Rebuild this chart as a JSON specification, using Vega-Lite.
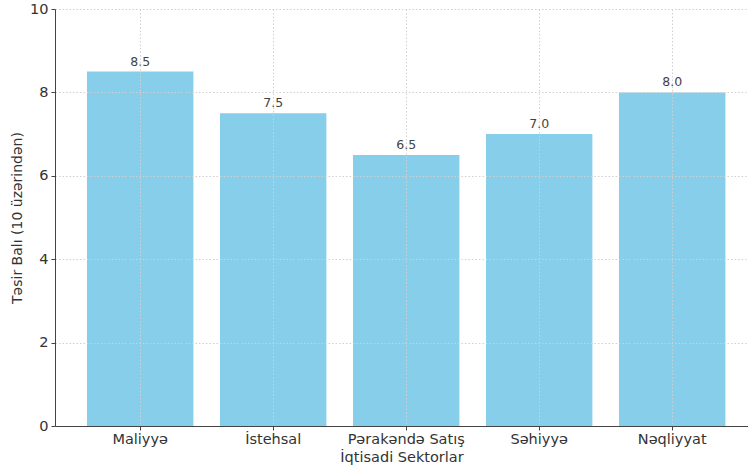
{
  "$schema": "https://vega.github.io/schema/vega-lite/v6.json",
  "autosize": "none",
  "width": 693,
  "height": 417,
  "padding": {"left": 55, "top": 9, "right": 0, "bottom": 45},
  "background": "white",
  "config": {
    "view": {"stroke": null},
    "font": "DejaVu Sans"
  },
  "data": {
    "values": [
      {"sektor": "Maliyyə", "bal": 8.5},
      {"sektor": "İstehsal", "bal": 7.5},
      {"sektor": "Pərakəndə Satış", "bal": 6.5},
      {"sektor": "Səhiyyə", "bal": 7.0},
      {"sektor": "Nəqliyyat", "bal": 8.0}
    ]
  },
  "encoding": {
    "x": {
      "field": "sektor",
      "type": "nominal",
      "sort": null,
      "scale": {"paddingInner": 0.2, "paddingOuter": 0.205, "align": 0.586},
      "axis": {
        "title": "İqtisadi Sektorlar",
        "titleFont": "DejaVu Sans",
        "titleFontSize": 14.5,
        "titleFontWeight": "normal",
        "titleColor": "#333",
        "titlePadding": 5,
        "labelAngle": 0,
        "labelFontSize": 14.5,
        "labelColor": "#333",
        "labelPadding": 2,
        "domainColor": "#444",
        "tickColor": "#444",
        "tickSize": 4,
        "bandPosition": 0.5,
        "grid": true,
        "gridColor": "#d0d0d0",
        "gridDash": [1.5, 2],
        "zindex": 1
      }
    },
    "y": {
      "field": "bal",
      "type": "quantitative",
      "scale": {"domain": [0, 10], "nice": false},
      "axis": {
        "title": "Təsir Balı (10 üzərindən)",
        "titleFont": "DejaVu Sans",
        "titleFontSize": 14,
        "titleFontWeight": "normal",
        "titleColor": "#333",
        "titlePadding": 5,
        "values": [0, 2, 4, 6, 8, 10],
        "labelFontSize": 14.5,
        "labelColor": "#333",
        "labelPadding": 3,
        "domainColor": "#444",
        "tickColor": "#444",
        "tickSize": 4,
        "grid": true,
        "gridColor": "#d0d0d0",
        "gridDash": [1.5, 2],
        "zindex": 1
      }
    }
  },
  "layer": [
    {"mark": {"type": "bar", "color": "#87CEEB"}},
    {
      "mark": {"type": "text", "baseline": "bottom", "dy": -3, "fontSize": 12.5, "color": "#444"},
      "encoding": {"text": {"field": "bal", "type": "quantitative", "format": ".1f"}}
    }
  ]
}
